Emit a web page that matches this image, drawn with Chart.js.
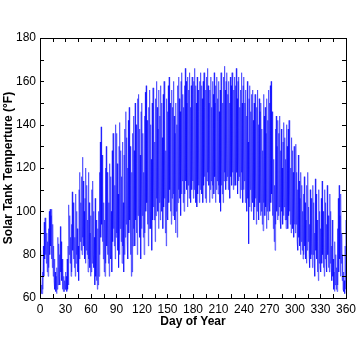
<!DOCTYPE html>
<html>
<head>
<meta charset="utf-8">
<script src="https://cdn.jsdelivr.net/npm/chart.js@4.4.1/dist/chart.umd.min.js"></script>
<style>
  html, body { margin: 0; padding: 0; background: #fff; }
  #wrap { width: 360px; height: 360px; }
</style>
</head>
<body>
<div id="wrap"><canvas id="tankChart"></canvas></div>
<script>
// daily high / low tank temperature (°F), one entry per day 0..360
const dayHigh = [
    82, 70, 66, 72, 84, 95, 97, 96, 90, 86,
    92, 100, 101, 98, 101, 94, 84, 78, 72, 70,
    74, 88, 85, 80, 93, 86, 78, 74, 70, 68,
    72, 70, 78, 84, 103, 98, 88, 94, 109, 104,
    96, 88, 108, 100, 92, 84, 110, 118, 104, 116,
    125, 114, 100, 106, 120, 112, 96, 118, 104, 90,
    98, 110, 114, 100, 88, 106, 96, 84, 92, 100,
    118, 132, 139, 126, 112, 104, 96, 120, 130, 118,
    110, 104, 122, 116, 100, 128, 136, 124, 112, 140,
    136, 122, 108, 130, 141, 128, 116, 132, 104, 126,
    138, 146, 134, 120, 142, 148, 130, 112, 118, 136,
    144, 128, 150, 140, 122, 152, 154, 138, 126, 146,
    150, 136, 118, 144, 155, 158, 142, 130, 148, 156,
    140, 124, 150, 157, 146, 132, 152, 160, 148, 138,
    156, 144, 158, 150, 134, 154, 160, 142, 128, 152,
    146, 158, 162, 150, 138, 156, 148, 160, 144, 136,
    150, 140, 158, 162, 152, 146, 160, 164, 154, 148,
    158, 166, 160, 150, 162, 156, 164, 148, 158, 162,
    154, 160, 166, 158, 150, 162, 156, 146, 160, 164,
    158, 152, 160, 164, 148, 156, 162, 166, 158, 150,
    156, 162, 148, 160, 154, 164, 150, 158, 162, 152,
    160, 146, 156, 164, 158, 150, 162, 167, 156, 160,
    164, 154, 160, 150, 162, 158, 164, 148, 156, 162,
    158, 166, 152, 160, 162, 148, 156, 164, 150, 158,
    162, 150, 156, 144, 160, 132, 152, 158, 146, 154,
    156, 142, 150, 154, 138, 148, 156, 140, 152, 146,
    150, 138, 128, 154, 144, 148, 136, 152, 142, 156,
    150, 158, 160, 146, 132, 124, 112, 138, 144, 130,
    142, 136, 144, 128, 138, 120, 132, 141, 134, 124,
    140, 130, 138, 142, 126, 120, 134, 128, 118, 130,
    124, 131, 118, 110, 126, 114, 106, 118, 112, 100,
    108, 116, 104, 96, 112, 118, 102, 94, 110, 106,
    98, 112, 104, 90, 115, 108, 96, 86, 110, 100,
    92, 106, 114, 100, 88, 110, 104, 94, 112, 98,
    90, 108, 100, 84, 96, 78, 72, 86, 80, 74,
    92, 106, 112, 98, 108, 90, 80, 72, 68, 84, 96
];
const dayLow = [
    66, 62, 62, 64, 70, 78, 80, 76, 72, 70,
    74, 80, 84, 78, 74, 70, 68, 64, 63, 62,
    64, 66, 70, 66, 72, 68, 64, 63, 63, 64,
    64, 63, 64, 66, 80, 76, 70, 72, 82, 78,
    74, 70, 76, 80, 72, 68, 78, 86, 82, 80,
    88, 84, 78, 76, 82, 80, 72, 78, 74, 70,
    72, 76, 80, 74, 66, 70, 68, 64, 66, 70,
    80, 88, 94, 86, 78, 72, 70, 76, 84, 80,
    76, 70, 80, 78, 72, 86, 92, 84, 78, 88,
    90, 82, 74, 80, 92, 86, 76, 84, 72, 80,
    88, 94, 86, 78, 90, 96, 80, 70, 72, 84,
    92, 84, 96, 90, 80, 98, 102, 88, 78, 92,
    98, 88, 80, 90, 100, 104, 94, 84, 92, 100,
    92, 82, 96, 102, 96, 86, 98, 106, 100, 92,
    104, 96, 108, 100, 92, 102, 106, 90, 84, 98,
    96, 104, 110, 100, 94, 106, 98, 108, 96, 90,
    100, 88, 104, 110, 106, 98, 108, 114, 104, 100,
    108, 114, 110, 102, 112, 106, 116, 104, 110, 114,
    106, 110, 114, 104, 102, 108, 112, 104, 110, 116,
    108, 104, 112, 116, 106, 104, 114, 118, 112, 104,
    110, 114, 106, 112, 108, 116, 104, 110, 114, 108,
    112, 104, 100, 112, 108, 104, 114, 118, 110, 114,
    116, 110, 114, 106, 116, 112, 118, 110, 112, 116,
    112, 118, 108, 114, 116, 106, 110, 118, 104, 110,
    114, 104, 110, 100, 106, 85, 102, 110, 100, 106,
    104, 96, 102, 106, 94, 100, 108, 96, 104, 98,
    100, 94, 91, 104, 98, 102, 92, 100, 96, 104,
    100, 104, 108, 98, 92, 86, 82, 94, 100, 96,
    98, 102, 96, 92, 100, 94, 98, 102, 96, 92,
    96, 92, 98, 100, 94, 90, 96, 92, 88, 94,
    90, 94, 86, 82, 88, 84, 80, 86, 82, 78,
    80, 84, 78, 76, 82, 86, 80, 74, 78, 80,
    74, 80, 76, 70, 82, 78, 72, 68, 76, 74,
    72, 76, 80, 74, 70, 78, 76, 72, 80, 74,
    72, 76, 74, 68, 70, 64, 63, 66, 64, 63,
    66, 72, 78, 70, 76, 68, 64, 63, 62, 64, 70
];
const xLabels = [0, 30, 60, 90, 120, 150, 180, 210, 240, 270, 300, 330, 360];
const yLabels = [60, 80, 100, 120, 140, 160, 180];

// high in the afternoon of each day, low half a day later
const points = [];
dayHigh.forEach((h, d) => {
    points.push({ x: d, y: h });
    points.push({ x: d + 0.5, y: dayLow[d] });
});

// matlab-style box with inward ticks on all four sides
const boxTicks = {
    id: 'boxTicks',
    afterDraw(chart) {
        const ctx = chart.ctx;
        const a = chart.chartArea;
        const len = 4;
        ctx.save();
        ctx.strokeStyle = '#000';
        ctx.lineWidth = 1;
        ctx.strokeRect(Math.round(a.left) + 0.5, Math.round(a.top) + 0.5,
            Math.round(a.right - a.left), Math.round(a.bottom - a.top));
        ctx.beginPath();
        chart.scales.x.ticks.forEach(t => {
            const px = Math.round(chart.scales.x.getPixelForValue(t.value)) + 0.5;
            ctx.moveTo(px, a.bottom); ctx.lineTo(px, a.bottom - len);
            ctx.moveTo(px, a.top); ctx.lineTo(px, a.top + len);
        });
        chart.scales.y.ticks.forEach(t => {
            const py = Math.round(chart.scales.y.getPixelForValue(t.value)) + 0.5;
            ctx.moveTo(a.left, py); ctx.lineTo(a.left + len, py);
            ctx.moveTo(a.right, py); ctx.lineTo(a.right - len, py);
        });
        ctx.stroke();
        ctx.restore();
    }
};

const ctx = document.getElementById('tankChart').getContext('2d');

new Chart(ctx, {
    type: 'line',
    data: {
        datasets: [{
            label: 'Solar Tank Temperature',
            data: points,
            borderColor: '#0000ff',
            borderWidth: 0.5,
            pointRadius: 0,
            tension: 0,
            fill: false
        }]
    },
    options: {
        responsive: true,
        maintainAspectRatio: false,
        animation: false,
        layout: {
            padding: { top: 38, right: 8, left: 0, bottom: 0 }
        },
        plugins: {
            legend: { display: false },
            tooltip: { enabled: false }
        },
        scales: {
            x: {
                type: 'linear',
                min: 0,
                max: 360,
                afterFit(scale) { scale.height = 62; },
                grid: { display: false, drawTicks: false },
                border: { display: false },
                ticks: {
                    stepSize: 15,
                    autoSkip: false,
                    maxRotation: 0,
                    padding: 4,
                    color: '#000',
                    font: { family: 'Liberation Sans, Arial', size: 12 },
                    callback: v => xLabels.includes(v) ? String(v) : ''
                },
                title: {
                    display: true,
                    text: 'Day of Year',
                    color: '#000',
                    padding: { top: 0, bottom: 31 },
                    font: { family: 'Liberation Sans, Arial', size: 12, weight: 'bold' }
                }
            },
            y: {
                min: 60,
                max: 180,
                afterFit(scale) { scale.width = 40; },
                grid: { display: false, drawTicks: false },
                border: { display: false },
                ticks: {
                    stepSize: 10,
                    autoSkip: false,
                    padding: 4,
                    color: '#000',
                    font: { family: 'Liberation Sans, Arial', size: 12 },
                    callback: v => yLabels.includes(v) ? String(v) : ''
                },
                title: {
                    display: true,
                    text: 'Solar Tank Temperture (°F)',
                    color: '#000',
                    padding: { top: 1, bottom: 0 },
                    font: { family: 'Liberation Sans, Arial', size: 12, weight: 'bold' }
                }
            }
        }
    },
    plugins: [boxTicks]
});
</script>
</body>
</html>
